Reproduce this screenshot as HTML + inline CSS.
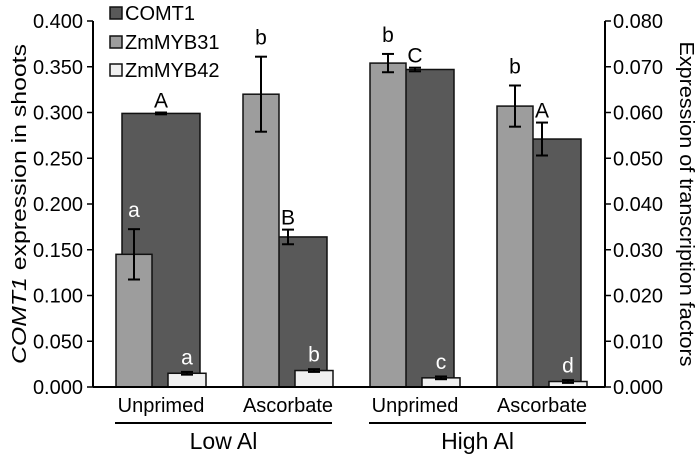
<!DOCTYPE html>
<html><head><meta charset="utf-8"><style>
body{margin:0;background:#fff}
svg{font-family:"Liberation Sans",Arial,sans-serif}
</style></head><body>
<svg id="c" width="700" height="456"></svg>
<script>
const categories=["Unprimed","Ascorbate","Unprimed","Ascorbate"];
const groups=["Low Al","High Al"];
const comt1=[0.299,0.164,0.347,0.271];
const comt1Err=[0.001,0.008,0.002,0.018];
const comt1Letters=["A","B","C","A"];
const myb31=[0.029,0.064,0.0708,0.0614];
const myb31Err=[0.0055,0.0082,0.002,0.0045];
const myb31Letters=["a","b","b","b"];
const myb42=[0.003,0.0036,0.002,0.0012];
const myb42Err=[0.0003,0.0003,0.0003,0.0003];
const myb42Letters=["a","b","c","d"];
const leftTicks=[0,0.05,0.1,0.15,0.2,0.25,0.3,0.35,0.4];
const rightTicks=[0,0.01,0.02,0.03,0.04,0.05,0.06,0.07,0.08];

const svg=document.getElementById('c');
const NS="http://www.w3.org/2000/svg";
const y0=387,yTop=21,xL=93,xR=605;
const yL=v=>y0-(v/0.4)*(y0-yTop);
const yR=v=>y0-(v/0.08)*(y0-yTop);
const gx=i=>116+i*127;
function mk(t,a,txt){const e=document.createElementNS(NS,t);for(const k in a)e.setAttribute(k,a[k]);if(txt!==undefined)e.textContent=txt;svg.appendChild(e);return e;}

let e=mk('line',{x1:xL,y1:yTop,x2:xL,y2:y0,stroke:'#000','stroke-width':2});


e=mk('line',{x1:xR,y1:yTop,x2:xR,y2:y0,stroke:'#000','stroke-width':2});


leftTicks.forEach(t=>{
  mk('line',{x1:xL-6,y1:yL(t),x2:xL,y2:yL(t),stroke:'#000','stroke-width':1.5});
  e=mk('text',{x:xL-10,y:yL(t)+7,'text-anchor':'end','font-size':20},t.toFixed(3));
  
  
});
rightTicks.forEach(t=>{
  mk('line',{x1:xR,y1:yR(t),x2:xR+6,y2:yR(t),stroke:'#000','stroke-width':1.5});
  e=mk('text',{x:xR+8,y:yR(t)+7,'font-size':20},t.toFixed(3));
  
  
});

function errbar(cx,top,bot){
  mk('line',{x1:cx,y1:top,x2:cx,y2:bot,stroke:'#000','stroke-width':2});
  mk('line',{x1:cx-6,y1:top,x2:cx+6,y2:top,stroke:'#000','stroke-width':2});
  mk('line',{x1:cx-6,y1:bot,x2:cx+6,y2:bot,stroke:'#000','stroke-width':2});
}
categories.forEach((c,i)=>{
  const L=gx(i);
  let r=mk('rect',{x:L+6,y:yL(comt1[i]),width:78,height:y0-yL(comt1[i]),fill:'#595959',stroke:'#111','stroke-width':1.5});
  
  
  errbar(L+45,yL(comt1[i]+comt1Err[i]),yL(comt1[i]-comt1Err[i]));
  let t=mk('text',{x:L+45,y:yL(comt1[i]+comt1Err[i])-5,'text-anchor':'middle','font-size':21},comt1Letters[i]);
  
  
  r=mk('rect',{x:L,y:yR(myb31[i]),width:36,height:y0-yR(myb31[i]),fill:'#9d9d9d',stroke:'#111','stroke-width':1.5});
  
  
  errbar(L+18,yR(myb31[i]+myb31Err[i]),yR(myb31[i]-myb31Err[i]));
  const inside=i===0;
  t=mk('text',{x:L+18,y:yR(myb31[i]+myb31Err[i])-12,'text-anchor':'middle','font-size':21,fill:inside?'#fff':'#000'},myb31Letters[i]);
  
  
  r=mk('rect',{x:L+52,y:yR(myb42[i]),width:38,height:y0-yR(myb42[i]),fill:'#f0f0f0',stroke:'#111','stroke-width':1.5});
  
  
  errbar(L+71,yR(myb42[i]+myb42Err[i]),yR(myb42[i]-myb42Err[i]));
  t=mk('text',{x:L+71,y:yR(myb42[i])-9,'text-anchor':'middle','font-size':21,fill:'#fff'},myb42Letters[i]);
  
  
  t=mk('text',{x:L+45,y:412,'text-anchor':'middle','font-size':20},c);
  
  
});
e=mk('line',{x1:xL,y1:y0,x2:xR,y2:y0,stroke:'#000','stroke-width':2});


groups.forEach((g,j)=>{
  const a=gx(j*2)-1,b=gx(j*2+1)+89;
  mk('line',{x1:a,y1:423,x2:b,y2:423,stroke:'#000','stroke-width':2});
  const t=mk('text',{x:(a+b)/2,y:449,'text-anchor':'middle','font-size':23},g);
  
  
});
[["COMT1","#595959",13],["ZmMYB31","#9d9d9d",42],["ZmMYB42","#f0f0f0",70]].forEach(([n,f,y])=>{
  mk('rect',{x:110,y:y-6,width:12,height:12,fill:f,stroke:'#111','stroke-width':1.5});
  const t=mk('text',{x:125,y:y+7,'font-size':20},n);
  
  
});
let t=mk('text',{transform:'translate(26,204) rotate(-90)','text-anchor':'middle','font-size':20,textLength:320,lengthAdjust:'spacingAndGlyphs'});
t.innerHTML='<tspan font-style="italic">COMT1</tspan> expression in shoots';


t=mk('text',{transform:'translate(680,204) rotate(90)','text-anchor':'middle','font-size':20,textLength:325,lengthAdjust:'spacingAndGlyphs'},'Expression of transcription factors');


</script>
</body></html>
